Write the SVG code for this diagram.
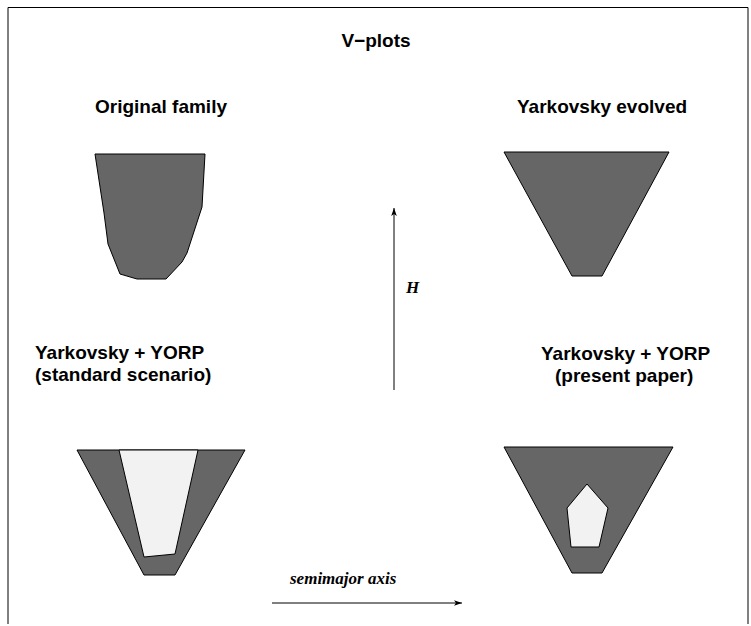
<svg xmlns="http://www.w3.org/2000/svg" width="751" height="626" viewBox="0 0 751 626">
<defs>
<style>
.t{font-family:"Liberation Sans",Arial,sans-serif;font-weight:bold;font-size:19px;fill:#000}
.s{font-family:"Liberation Serif","Times New Roman",serif;font-weight:bold;font-style:italic;font-size:17px;fill:#000}
.dark{fill:#666666;stroke:#000;stroke-width:1}
.light{fill:#f2f2f2;stroke:#000;stroke-width:1}
.ax{stroke:#000;stroke-width:1;fill:none}
</style>
<marker id="ah" viewBox="0 0 10 10" refX="10" refY="5" markerWidth="8" markerHeight="8" markerUnits="userSpaceOnUse" orient="auto">
<path d="M0,1.5 L10,5 L0,8.5 L2.5,5 Z" fill="#000"/>
</marker>
</defs>
<rect width="751" height="626" fill="#fff"/>
<path d="M8,624 V7.5 H748 V624" class="ax"/>
<text class="t" x="376" y="47" text-anchor="middle">V−plots</text>
<g id="original">
<text class="t" x="95" y="113">Original family</text>
<polygon class="dark" points="95,154 205,154 202,207 187,253 182,262 166,279 137,279 120,274 108,244 104,213"/>
</g>
<g id="evolved">
<text class="t" x="517" y="113">Yarkovsky evolved</text>
<polygon class="dark" points="504,152 669,152 602,276 572,276"/>
</g>
<g id="standard">
<text class="t" x="35" y="359">Yarkovsky + YORP</text>
<text class="t" x="35" y="381">(standard scenario)</text>
<polygon class="dark" points="77,450 245,450 175,575 144,575"/>
<polygon class="light" points="119,450 198,450 175,554 144,557"/>
</g>
<g id="present">
<text class="t" x="541" y="360">Yarkovsky + YORP</text>
<text class="t" x="555" y="382">(present paper)</text>
<polygon class="dark" points="504,447 673,447 602,573 572,573"/>
<polygon class="light" points="587,484 608,508 599,547 571,547 567,508"/>
</g>
<g id="connectors">
<line class="ax" x1="394" y1="390" x2="394" y2="208" marker-end="url(#ah)"/>
<text class="s" x="406" y="293">H</text>
<line class="ax" x1="272" y1="603" x2="462" y2="603" marker-end="url(#ah)"/>
<text class="s" x="290" y="584">semimajor axis</text>
</g>
</svg>
